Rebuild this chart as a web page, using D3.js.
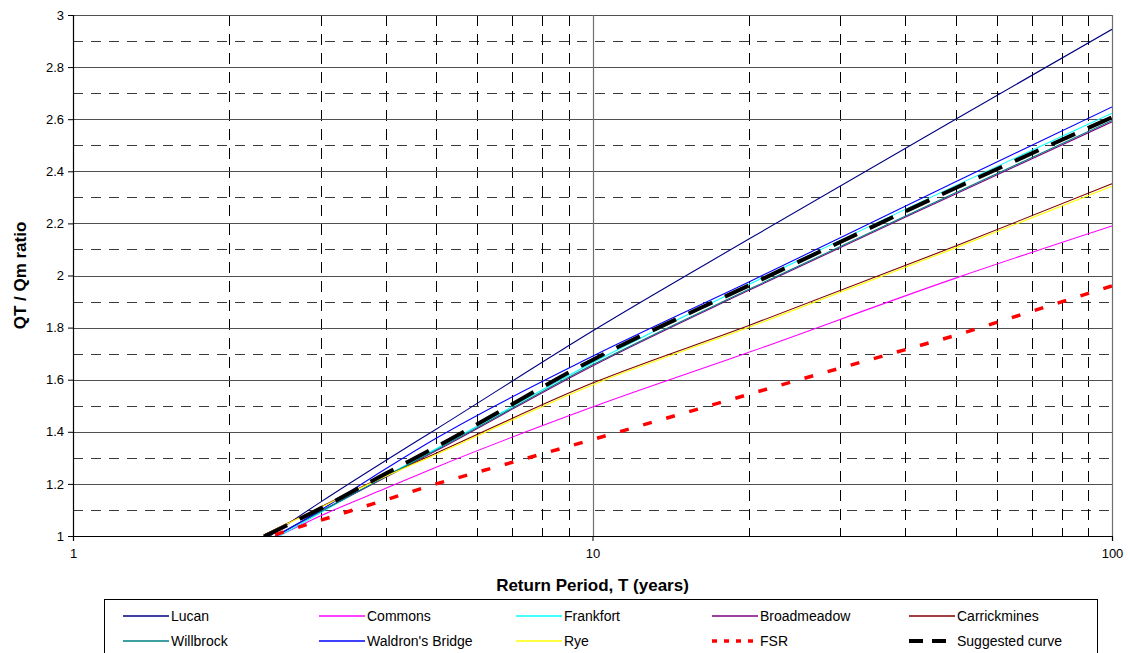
<!DOCTYPE html>
<html>
<head>
<meta charset="utf-8">
<script src="https://cdn.jsdelivr.net/npm/d3@7"></script>
<style>
  html, body { margin: 0; padding: 0; background: #fff; }
  svg { display: block; font-family: "Liberation Sans", Arial, sans-serif; }
</style>
</head>
<body>
<svg id="chart" width="1130" height="653"></svg>
<script>
// Return periods (years) at which the growth curves are tabulated
const returnPeriods = [2.33, 3, 4, 5, 10, 20, 50, 100];

// Growth factors QT/Qm for each station
const lucan        = [0.984, 1.131, 1.290, 1.410, 1.787, 2.140, 2.600, 2.945];
const commons      = [0.972, 1.078, 1.183, 1.264, 1.495, 1.705, 1.990, 2.190];
const frankfort    = [0.966, 1.090, 1.230, 1.335, 1.665, 1.965, 2.345, 2.623];
const broadmeadow  = [0.975, 1.095, 1.225, 1.327, 1.653, 1.943, 2.313, 2.590];
const carrickmines = [1.004, 1.112, 1.232, 1.318, 1.587, 1.808, 2.113, 2.352];
const willbrock    = [0.975, 1.095, 1.228, 1.330, 1.657, 1.947, 2.318, 2.595];
const waldrons     = [0.973, 1.100, 1.258, 1.375, 1.690, 1.975, 2.360, 2.647];
const rye          = [1.003, 1.110, 1.229, 1.313, 1.580, 1.801, 2.106, 2.343];
const suggested    = [0.998, 1.106, 1.240, 1.342, 1.676, 1.962, 2.336, 2.607];

// Flood Studies Report growth curve
const fsrPeriods = [2, 5, 10, 25, 50, 100];
const fsrValues  = [0.95, 1.20, 1.37, 1.60, 1.77, 1.96];

// Axis ticks
const yTicks = [1, 1.2, 1.4, 1.6, 1.8, 2, 2.2, 2.4, 2.6, 2.8, 3];
const yMinor = [1.1, 1.3, 1.5, 1.7, 1.9, 2.1, 2.3, 2.5, 2.7, 2.9];
const xTicks = [1, 10, 100];
const xMinor = [2, 3, 4, 5, 6, 7, 8, 9, 20, 30, 40, 50, 60, 70, 80, 90];

const series = [
  { name: "Lucan",            values: lucan,        color: "#000080", width: 1.1 },
  { name: "Commons",          values: commons,      color: "#FF00FF", width: 1.1 },
  { name: "Frankfort",        values: frankfort,    color: "#00FFFF", width: 1.1 },
  { name: "Broadmeadow",      values: broadmeadow,  color: "#800080", width: 1.1 },
  { name: "Carrickmines",     values: carrickmines, color: "#800000", width: 1.1 },
  { name: "Willbrock",        values: willbrock,    color: "#008080", width: 1.1 },
  { name: "Waldron's Bridge", values: waldrons,     color: "#0000FF", width: 1.1 },
  { name: "Rye",              values: rye,          color: "#FFFF00", width: 1.1 },
  { name: "FSR",              periods: fsrPeriods, values: fsrValues, color: "#FF0000", width: 3.5, dash: "9,15", legendDash: "5,7", linear: true },
  { name: "Suggested curve",  values: suggested,    color: "#000000", width: 4, dash: "26,14", legendDash: "14,9" }
];

const svg = d3.select("#chart");
const plotLeft = 73, plotRight = 1112, plotTop = 15, plotBottom = 536;

const x = d3.scaleLog().domain([1, 100]).range([plotLeft, plotRight]);
const y = d3.scaleLinear().domain([1, 3]).range([plotBottom, plotTop]);

// clip region for the plot area
svg.append("defs").append("clipPath").attr("id", "plotClip")
  .append("rect").attr("x", plotLeft).attr("y", plotTop)
  .attr("width", plotRight - plotLeft).attr("height", plotBottom - plotTop);

const grid = svg.append("g");

// horizontal minor (dashed) gridlines
grid.selectAll("line.hmin").data(yMinor).join("line")
  .attr("x1", plotLeft).attr("x2", plotRight)
  .attr("y1", d => Math.round(y(d)) + 0.5).attr("y2", d => Math.round(y(d)) + 0.5)
  .attr("stroke", "#3a3a3a").attr("stroke-width", 1).attr("stroke-dasharray", "10,8");

// vertical minor (dashed) gridlines
grid.selectAll("line.vmin").data(xMinor).join("line")
  .attr("x1", d => Math.round(x(d)) + 0.5).attr("x2", d => Math.round(x(d)) + 0.5)
  .attr("y1", plotTop).attr("y2", plotBottom)
  .attr("stroke", "#000").attr("stroke-width", 1).attr("stroke-dasharray", "11,8");

// horizontal major gridlines
grid.selectAll("line.hmaj").data(yTicks.slice(1)).join("line")
  .attr("x1", plotLeft).attr("x2", plotRight)
  .attr("y1", d => Math.round(y(d)) + 0.5).attr("y2", d => Math.round(y(d)) + 0.5)
  .attr("stroke", "#505050").attr("stroke-width", 1.2);

// vertical major gridlines
grid.selectAll("line.vmaj").data(xTicks.slice(1)).join("line")
  .attr("x1", d => Math.round(x(d)) + 0.5).attr("x2", d => Math.round(x(d)) + 0.5)
  .attr("y1", plotTop).attr("y2", plotBottom)
  .attr("stroke", "#707070").attr("stroke-width", 1.2);

// data curves
const plot = svg.append("g").attr("clip-path", "url(#plotClip)");
series.forEach(s => {
  const periods = s.periods || returnPeriods;
  const pts = periods.map((t, i) => [t, s.values[i]]);
  const line = d3.line()
    .x(d => x(d[0])).y(d => y(d[1]))
    .curve(s.linear ? d3.curveLinear : d3.curveMonotoneX);
  plot.append("path")
    .attr("d", line(pts))
    .attr("fill", "none")
    .attr("stroke", s.color)
    .attr("stroke-width", s.width)
    .attr("stroke-dasharray", s.dash || null);
});

// axes
const yAxis = d3.axisLeft(y).tickValues(yTicks).tickSize(5).tickPadding(4)
  .tickFormat(d3.format("~g"));
const yg = svg.append("g").attr("transform", `translate(${plotLeft},0)`).call(yAxis);
const xAxis = d3.axisBottom(x).tickValues(xTicks).tickSize(5).tickPadding(5)
  .tickFormat(d3.format("d"));
const xg = svg.append("g").attr("transform", `translate(0,${plotBottom})`).call(xAxis);
[yg, xg].forEach(g => {
  g.select(".domain").attr("stroke", "#000").attr("stroke-width", 1.2);
  g.selectAll(".tick line").attr("stroke", "#000");
  g.selectAll(".tick text").attr("font-size", 13).attr("fill", "#000")
    .attr("font-family", "Liberation Sans, Arial, sans-serif");
});
xg.selectAll(".tick text").attr("dy", "0.9em");

// axis titles
svg.append("text").attr("x", (plotLeft + plotRight) / 2).attr("y", 591)
  .attr("text-anchor", "middle").attr("font-size", 17).attr("font-weight", "bold")
  .text("Return Period, T (years)");
svg.append("text")
  .attr("transform", `translate(26,${(plotTop + plotBottom) / 2}) rotate(-90)`)
  .attr("text-anchor", "middle").attr("font-size", 17).attr("font-weight", "bold")
  .text("QT / Qm ratio");

// legend
const legend = svg.append("g");
legend.append("rect").attr("x", 104.5).attr("y", 599.5).attr("width", 993).attr("height", 60)
  .attr("fill", "#fff").attr("stroke", "#000").attr("stroke-width", 1);
const colX = [123, 319, 516, 712, 909];
const rowY = [616, 641];
series.forEach((s, i) => {
  const cx = colX[i % 5], cy = rowY[Math.floor(i / 5)];
  legend.append("line")
    .attr("x1", cx).attr("x2", cx + 46).attr("y1", cy).attr("y2", cy)
    .attr("stroke", s.color)
    .attr("stroke-width", s.dash ? s.width : 1.5)
    .attr("stroke-dasharray", s.legendDash || null);
  legend.append("text").attr("x", cx + 48).attr("y", cy).attr("dy", "0.35em")
    .attr("font-size", 14).text(s.name);
});
</script>
</body>
</html>
